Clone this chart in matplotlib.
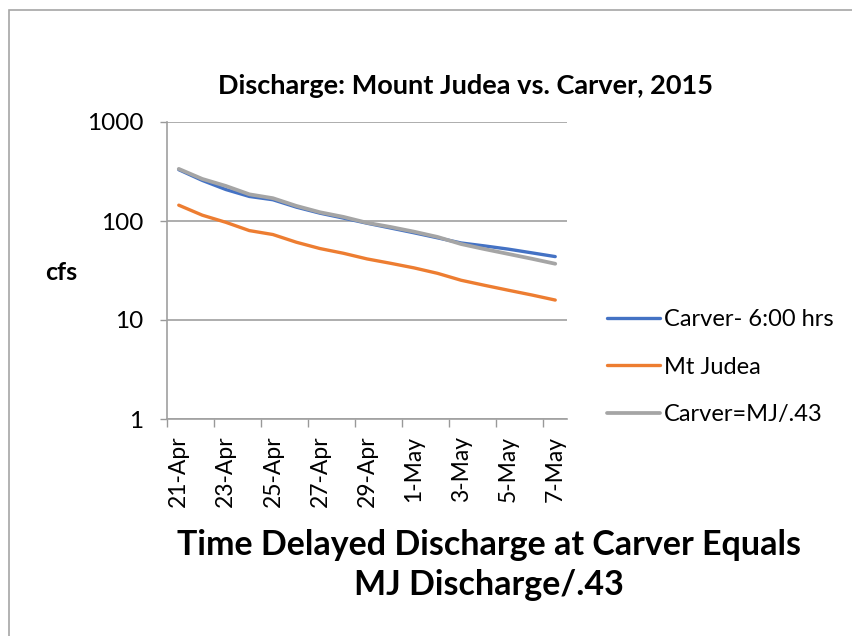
import matplotlib
matplotlib.use("Agg")
from matplotlib import pyplot as plt
from matplotlib.patches import Rectangle

plt.rcParams["font.family"] = ["Lato", "DejaVu Sans"]

dates = ["21-Apr", "22-Apr", "23-Apr", "24-Apr", "25-Apr", "26-Apr", "27-Apr", "28-Apr",
         "29-Apr", "30-Apr", "1-May", "2-May", "3-May", "4-May", "5-May", "6-May", "7-May"]
carver = [330, 257, 208, 177, 164, 138, 120, 107, 95, 85, 76, 67.6, 60, 56, 52, 47.7, 43.7]
mt_judea = [144.5, 114.5, 97, 80, 73, 61, 52.7, 47.2, 41.4, 37.4, 33.6, 29.6, 25.2, 22.4, 20, 17.9, 15.9]
carver_mj = [336, 266, 226, 186, 170, 142, 122.6, 110, 96, 87, 78, 69, 58.5, 52, 46.5, 41.6, 37]
y_ticks = [1, 10, 100, 1000]

fig = plt.figure(figsize=(8.53, 6.36), dpi=100)
ax = fig.add_axes([167 / 853, 1 - 419 / 636, 400 / 853, 297 / 636])

x = list(range(len(dates)))
ax.plot(x, carver, color="#4472C4", lw=2.4, label="Carver- 6:00 hrs", solid_capstyle="round")
ax.plot(x, mt_judea, color="#ED7D31", lw=2.4, label="Mt Judea", solid_capstyle="round")
ax.plot(x, carver_mj, color="#A5A5A5", lw=2.7, label="Carver=MJ/.43", solid_capstyle="round")

ax.set_yscale("log")
ax.set_ylim(1, 1000)
ax.set_yticks(y_ticks)
ax.set_yticklabels([str(v) for v in y_ticks])
ax.minorticks_off()
ax.set_xlim(-0.5, len(dates) - 0.5)
ax.set_xticks(x[::2])
ax.set_xticklabels(dates[::2], rotation=90)
ax.set_xticks([i - 0.5 for i in x[::2]], minor=True)
ax.tick_params(axis="x", which="major", length=0, pad=12, labelsize=16.5)
ax.tick_params(axis="x", which="minor", length=5.5, color="#999999", width=1)
ax.tick_params(axis="y", length=5, color="#999999", width=1, pad=12, labelsize=17.5)

ax.grid(axis="y", color="#a0a0a0", lw=1.2)
for s in ["top", "right"]:
    ax.spines[s].set_visible(False)
for s in ["left", "bottom"]:
    ax.spines[s].set_color("#a0a0a0")
    ax.spines[s].set_linewidth(1.2)

ax.legend(loc="center left", bbox_to_anchor=(607 / 853, 1 - 367 / 636), bbox_transform=fig.transFigure,
          frameon=False, fontsize=17, borderpad=0, borderaxespad=0,
          handlelength=2.25, handletextpad=0.15, labelspacing=1.12)

fig.text(466 / 853, 1 - 86 / 636, "Discharge: Mount Judea vs. Carver, 2015",
         ha="center", va="center", fontsize=19.5, fontweight="bold")
fig.text(61 / 853, 1 - 272 / 636, "cfs", ha="center", va="center", fontsize=18, fontweight="bold")
fig.text(489 / 853, 1 - 565 / 636, "Time Delayed Discharge at Carver Equals\nMJ Discharge/.43",
         ha="center", va="center", fontsize=24.5, fontweight="bold", linespacing=1.3)

fig.patches.append(Rectangle((9 / 853, -0.1), 1.2, 1 - 10 / 636 + 0.1, transform=fig.transFigure,
                             fill=False, edgecolor="#a6a6a6", lw=1.2))

fig.savefig("out.png", dpi=100)
